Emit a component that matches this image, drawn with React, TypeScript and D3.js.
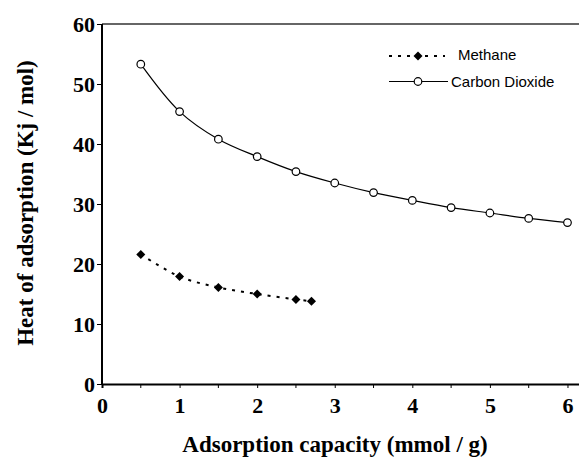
// @ts-nocheck
import React, { useEffect, useRef } from 'react';
import * as d3 from 'd3';

// data
const co2Capacity = [0.5, 1, 1.5, 2, 2.5, 3, 3.5, 4, 4.5, 5, 5.5, 6];
const co2Heat = [53.3, 45.4, 40.8, 37.9, 35.4, 33.5, 31.9, 30.6, 29.4, 28.5, 27.6, 26.9];
const ch4Capacity = [0.5, 1, 1.5, 2, 2.5, 2.7];
const ch4Heat = [21.6, 17.9, 16.1, 15.0, 14.1, 13.8];
const xTicks = [0, 1, 2, 3, 4, 5, 6];
const xMinorTicks = [0.5, 1.5, 2.5, 3.5, 4.5, 5.5];
const yTicks = [0, 10, 20, 30, 40, 50, 60];
const seriesNames = ['Methane', 'Carbon Dioxide'];

const W = 579, H = 468;
const serif = '"Liberation Serif", "Times New Roman", serif';
const sans = '"Liberation Sans", Arial, sans-serif';

export default function App() {
    const ref = useRef(null);

    useEffect(() => {
        const svg = d3.select(ref.current);
        svg.selectAll('*').remove();

        // plot area keeps running past the right edge, as in the source
        const x = d3.scaleLinear().domain([0, 6.2]).range([102, 583]);
        const y = d3.scaleLinear().domain([0, 60]).range([384, 24]);

        // top border
        svg.append('line')
            .attr('x1', x(0)).attr('x2', W)
            .attr('y1', y(60)).attr('y2', y(60))
            .attr('stroke', '#333').attr('stroke-width', 1.5);

        // x axis
        const gx = svg.append('g').attr('transform', `translate(0,${y(0)})`);
        gx.call(d3.axisBottom(x).tickValues(xTicks).tickSize(4).tickPadding(9).tickFormat(d3.format('d')));
        gx.append('g').selectAll('line')
            .data(xMinorTicks)
            .join('line')
            .attr('x1', d => x(d)).attr('x2', d => x(d))
            .attr('y1', 0).attr('y2', 4)
            .attr('stroke', '#000');
        gx.select('.domain').attr('stroke-width', 2);

        // y axis
        const gy = svg.append('g').attr('transform', `translate(${x(0)},0)`);
        gy.call(d3.axisLeft(y).tickValues(yTicks).tickSize(5).tickPadding(2));
        gy.select('.domain').attr('stroke-width', 2).attr('d', `M0,${y(60)}V${y(0)}`);

        svg.selectAll('.tick text')
            .attr('font-family', serif)
            .attr('font-size', 22)
            .attr('font-weight', 'bold')
            .attr('fill', '#000');

        const line = d3.line()
            .curve(d3.curveCatmullRom)
            .x(d => x(d[0]))
            .y(d => y(d[1]));

        const co2 = co2Capacity.map((c, i) => [c, co2Heat[i]]);
        const ch4 = ch4Capacity.map((c, i) => [c, ch4Heat[i]]);

        const diamond = d3.symbol().type(d3.symbolDiamond2).size(52);

        // methane
        svg.append('path')
            .datum(ch4)
            .attr('fill', 'none')
            .attr('stroke', '#000')
            .attr('stroke-width', 2)
            .attr('stroke-dasharray', '3,6')
            .attr('d', line);
        svg.append('g').selectAll('path')
            .data(ch4)
            .join('path')
            .attr('transform', d => `translate(${x(d[0])},${y(d[1])})`)
            .attr('d', diamond)
            .attr('fill', '#000');

        // carbon dioxide
        svg.append('path')
            .datum(co2)
            .attr('fill', 'none')
            .attr('stroke', '#000')
            .attr('stroke-width', 1.2)
            .attr('d', line);
        svg.append('g').selectAll('circle')
            .data(co2)
            .join('circle')
            .attr('cx', d => x(d[0]))
            .attr('cy', d => y(d[1]))
            .attr('r', 3.8)
            .attr('fill', '#fff')
            .attr('stroke', '#000')
            .attr('stroke-width', 1.2);

        // legend
        const leg = svg.append('g');
        leg.append('line')
            .attr('x1', 389).attr('x2', 445).attr('y1', 56).attr('y2', 56)
            .attr('stroke', '#000').attr('stroke-width', 2).attr('stroke-dasharray', '3,6');
        leg.append('path')
            .attr('transform', 'translate(418,56)')
            .attr('d', diamond).attr('fill', '#000');
        leg.append('text')
            .attr('x', 458).attr('y', 60)
            .attr('font-family', sans).attr('font-size', 15)
            .text(seriesNames[0]);
        leg.append('line')
            .attr('x1', 389).attr('x2', 448).attr('y1', 81.5).attr('y2', 81.5)
            .attr('stroke', '#000').attr('stroke-width', 1.2);
        leg.append('circle')
            .attr('cx', 418).attr('cy', 81.5).attr('r', 3.8)
            .attr('fill', '#fff').attr('stroke', '#000').attr('stroke-width', 1.2);
        leg.append('text')
            .attr('x', 451).attr('y', 87)
            .attr('font-family', sans).attr('font-size', 15)
            .text(seriesNames[1]);

        // axis titles
        svg.append('text')
            .attr('x', 335).attr('y', 452)
            .attr('text-anchor', 'middle')
            .attr('font-family', serif).attr('font-size', 23).attr('font-weight', 'bold')
            .text('Adsorption capacity (mmol / g)');
        svg.append('text')
            .attr('transform', 'translate(33,203) rotate(-90)')
            .attr('text-anchor', 'middle')
            .attr('font-family', serif).attr('font-size', 23).attr('font-weight', 'bold')
            .text('Heat of adsorption (Kj / mol)');
    }, []);

    return (
        <svg ref={ref} width={W} height={H}
            style={{ position: 'absolute', left: 0, top: 0, background: '#fff' }} />
    );
}
